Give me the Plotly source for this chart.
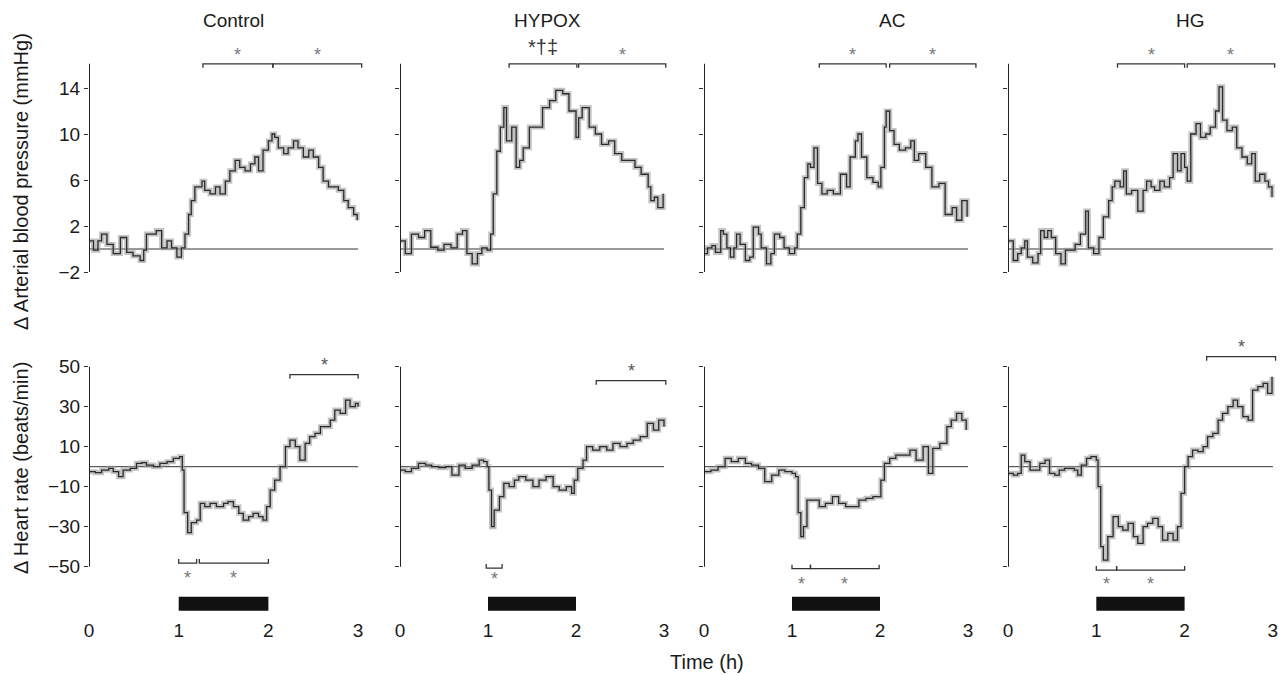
import plotly.graph_objects as go

# ---------------- data ----------------
panel_titles = ["Control", "HYPOX", "AC", "HG"]

control_abp_t = [0, 0.05, 0.10, 0.14, 0.20, 0.27, 0.35, 0.42, 0.49, 0.57, 0.61, 0.64, 0.70, 0.75, 0.81, 0.87, 0.92, 0.98, 1.03, 1.07,
                 1.11, 1.14, 1.18, 1.22, 1.26, 1.29, 1.35, 1.41, 1.46, 1.52, 1.57, 1.63, 1.68, 1.74, 1.80, 1.85, 1.89, 1.94, 2.00, 2.04,
                 2.07, 2.11, 2.17, 2.22, 2.28, 2.33, 2.39, 2.45, 2.50, 2.56, 2.61, 2.67, 2.72, 2.78, 2.84, 2.89, 2.95, 2.99]
control_abp = [0.7, -0.1, 0.7, 1.3, 0.4, -0.4, 1.0, -0.3, -0.6, -1.0, -0.1, 1.3, 1.3, 1.6, 0.1, 0.7, 0.1, -0.7, 0.1, 1.3,
               3.0, 4.2, 5.4, 5.4, 5.9, 5.1, 4.8, 5.4, 4.8, 5.9, 6.8, 7.7, 7.1, 6.8, 7.4, 8.0, 6.8, 8.6, 9.4, 10.0,
               9.7, 8.8, 8.3, 8.8, 9.4, 8.8, 8.0, 8.6, 8.0, 7.1, 5.9, 5.4, 5.4, 5.1, 4.2, 3.6, 3.0, 2.5]

control_hr_t = [0, 0.07, 0.14, 0.22, 0.27, 0.33, 0.38, 0.46, 0.53, 0.59, 0.64, 0.72, 0.79, 0.87, 0.94, 1.01, 1.04, 1.06, 1.10, 1.14,
                1.20, 1.24, 1.29, 1.35, 1.42, 1.50, 1.55, 1.61, 1.67, 1.72, 1.78, 1.83, 1.89, 1.94, 1.98, 2.02, 2.07, 2.13, 2.19, 2.24,
                2.30, 2.35, 2.41, 2.46, 2.52, 2.58, 2.63, 2.69, 2.74, 2.80, 2.86, 2.91, 2.97, 3.00]
control_hr = [-2.5, -3, -1.7, -0.8, -2.5, -5, -1.7, -0.8, 1.7, 2, 0.8, 0, 1.7, 2.5, 4.2, 5, -1.7, -23, -33, -28,
              -26.7, -18.3, -20, -18.3, -20, -18.3, -17.5, -20, -23.3, -26.7, -25, -23.3, -25, -26.7, -20, -11.7, -6.7, 0, 10, 13.3,
              10, 3.3, 11.7, 15, 16.7, 20, 20, 23.3, 28.3, 26.7, 33.3, 30, 31.7, 30]

hypox_abp_t = [0, 0.06, 0.13, 0.21, 0.28, 0.35, 0.43, 0.50, 0.58, 0.65, 0.71, 0.76, 0.82, 0.88, 0.93, 0.99, 1.03, 1.06, 1.10, 1.14,
               1.18, 1.21, 1.27, 1.32, 1.36, 1.40, 1.47, 1.55, 1.62, 1.70, 1.77, 1.85, 1.92, 2.00, 2.03, 2.07, 2.15, 2.22, 2.29, 2.37,
               2.44, 2.52, 2.59, 2.67, 2.74, 2.82, 2.85, 2.89, 2.93, 2.99]
hypox_abp = [0.7, -0.4, 1.3, 1.0, 1.6, 0.15, -0.1, 0.4, 0.1, 1.3, 1.6, -0.4, -1.3, -0.4, 0.1, -0.1, 1.3, 4.8, 8.5, 10.6,
             12.3, 9.4, 10.6, 7.1, 7.7, 8.8, 10.6, 10.6, 12.3, 12.9, 13.8, 13.5, 12.0, 9.7, 11.4, 12.3, 10.6, 10.0, 9.1, 9.4,
             8.3, 7.7, 7.7, 7.1, 6.5, 5.4, 4.2, 4.5, 3.6, 4.8]

hypox_hr_t = [0, 0.06, 0.13, 0.21, 0.29, 0.36, 0.44, 0.52, 0.59, 0.67, 0.74, 0.82, 0.90, 0.95, 0.99, 1.01, 1.04, 1.07, 1.13, 1.18,
              1.24, 1.30, 1.35, 1.43, 1.51, 1.58, 1.66, 1.74, 1.81, 1.89, 1.95, 1.98, 2.02, 2.08, 2.12, 2.19, 2.27, 2.35, 2.42, 2.50,
              2.58, 2.65, 2.73, 2.81, 2.88, 2.94, 3.00]
hypox_hr = [-1.7, -2.5, -0.8, 1.7, 0.8, 0, -0.5, 0, -4.2, 0.8, -0.8, 0.8, 3.3, 2.5, 0, -11.7, -30, -21.7, -15, -8.3,
            -10, -6.7, -5, -6.7, -10, -6.7, -5, -10, -11.7, -10, -13.3, -6.7, -0.8, 3.3, 10, 8.3, 10, 8.3, 11.7, 10,
            11.7, 13.3, 15, 21.7, 18.3, 23.3, 20]

ac_abp_t = [0, 0.04, 0.09, 0.13, 0.19, 0.22, 0.26, 0.30, 0.34, 0.37, 0.41, 0.47, 0.52, 0.56, 0.62, 0.65, 0.71, 0.76, 0.80, 0.86,
            0.91, 0.97, 1.03, 1.06, 1.10, 1.14, 1.18, 1.21, 1.25, 1.29, 1.34, 1.40, 1.47, 1.55, 1.62, 1.66, 1.72, 1.75, 1.79, 1.85,
            1.92, 1.98, 2.01, 2.05, 2.07, 2.11, 2.16, 2.22, 2.29, 2.35, 2.39, 2.44, 2.52, 2.59, 2.67, 2.74, 2.82, 2.87, 2.93, 2.99]
ac_abp = [-0.4, 0.1, 0.3, -0.3, 1.6, 1.3, 0.1, -0.7, 0.1, 1.3, 0.4, -1.0, -0.7, 1.9, 1.3, 0.1, -1.3, -0.4, 1.3, 1.0,
          0.1, -0.4, 0.1, 1.3, 3.6, 6.2, 7.4, 7.1, 8.8, 5.7, 4.8, 5.1, 4.8, 6.5, 5.4, 8.0, 9.4, 10.0, 8.0, 6.2,
          5.8, 5.4, 7.1, 10.6, 12.0, 10.3, 9.1, 8.6, 8.8, 9.4, 7.7, 8.3, 7.1, 5.4, 5.7, 3.0, 3.6, 2.5, 4.2, 2.8]

ac_hr_t = [0, 0.08, 0.16, 0.24, 0.31, 0.39, 0.47, 0.54, 0.62, 0.69, 0.77, 0.85, 0.92, 1.00, 1.04, 1.07, 1.10, 1.13, 1.17, 1.23,
           1.31, 1.38, 1.46, 1.53, 1.61, 1.69, 1.76, 1.84, 1.92, 1.98, 2.01, 2.05, 2.11, 2.18, 2.26, 2.34, 2.41, 2.49, 2.55, 2.60,
           2.68, 2.76, 2.81, 2.87, 2.93, 2.98]
ac_hr = [-2.5, -1.7, 0, 4.2, 2.5, 4.2, 1.7, 0.8, -0.8, -7.5, -4.2, -1.7, -2.5, -3.3, -5, -23, -35, -30, -16.7, -16.7,
         -20, -18.3, -15, -18.3, -20, -20, -16.7, -15.8, -15, -15, -6.7, 1.7, 4.2, 5.8, 5.8, 8.3, 3.3, 10, -3.3, 9.2,
         11.7, 20, 23.3, 26.7, 23.3, 18.3]

hg_abp_t = [0, 0.06, 0.11, 0.15, 0.19, 0.22, 0.28, 0.34, 0.37, 0.41, 0.45, 0.49, 0.54, 0.60, 0.65, 0.71, 0.76, 0.82, 0.88, 0.91,
            0.97, 1.03, 1.08, 1.14, 1.18, 1.21, 1.27, 1.31, 1.34, 1.40, 1.47, 1.53, 1.57, 1.62, 1.66, 1.72, 1.77, 1.83, 1.87, 1.92,
            1.96, 2.00, 2.03, 2.07, 2.13, 2.18, 2.24, 2.29, 2.35, 2.39, 2.43, 2.48, 2.54, 2.59, 2.65, 2.71, 2.76, 2.80, 2.85, 2.91,
            2.95, 2.99]
hg_abp = [0.7, -1.0, -0.4, 0.1, 0.7, -0.7, -1.2, -0.4, 1.6, 1.0, 1.6, 1.0, -0.4, -1.3, -0.1, -0.1, 0.4, 1.3, 3.3, 0.1,
          -0.4, 1.0, 2.8, 4.2, 5.4, 5.9, 5.4, 6.8, 4.8, 5.1, 3.3, 5.1, 5.9, 5.4, 5.1, 5.9, 5.4, 6.2, 8.3, 6.8,
          8.3, 7.1, 5.9, 10.0, 10.9, 9.7, 10.0, 10.6, 12.0, 14.1, 11.2, 10.3, 10.6, 8.8, 8.0, 7.4, 8.3, 5.9, 6.5, 5.9,
          5.4, 4.5]

hg_hr_t = [0, 0.06, 0.11, 0.15, 0.19, 0.25, 0.30, 0.36, 0.42, 0.47, 0.53, 0.58, 0.64, 0.70, 0.75, 0.79, 0.83, 0.89, 0.94, 1.00,
           1.02, 1.05, 1.08, 1.13, 1.19, 1.25, 1.30, 1.36, 1.42, 1.47, 1.53, 1.58, 1.64, 1.70, 1.75, 1.81, 1.87, 1.92, 1.96, 2.00,
           2.04, 2.09, 2.15, 2.21, 2.26, 2.32, 2.38, 2.43, 2.49, 2.55, 2.60, 2.66, 2.72, 2.77, 2.83, 2.89, 2.94, 2.99]
hg_hr = [-3.3, -4.2, -3.3, 5.8, 2.5, -1.7, -1.7, 1.7, 3.3, -3.3, -4.2, -1.7, -0.8, -0.8, -1.7, -4.2, 0.8, 4.2, 5, 3.3,
         -10, -40, -46.7, -35, -25, -30, -31.7, -28.3, -35, -38.3, -30, -28.3, -25.8, -30, -36.7, -33.3, -36.7, -30, -13.3, 0,
         5, 8.3, 7.5, 10, 15, 16.7, 23.3, 26.7, 30, 33.3, 30, 25, 23.3, 38.3, 40, 41.7, 36.7, 45]

# significance periods (h) and their labels
abp_sig_spans = [[[1.27, 2.05], [2.05, 3.04]],
                 [[1.24, 2.01], [2.03, 3.02]],
                 [[1.31, 2.07], [2.11, 3.09]],
                 [[1.24, 2.00], [2.03, 3.02]]]
abp_sig_labels = [["*", "*"], ["*\u2020\u2021", "*"], ["*", "*"], ["*", "*"]]
hr_low_spans = [[[1.00, 1.20], [1.23, 2.00]],
                [[0.98, 1.16]],
                [[1.00, 1.21], [1.21, 1.99]],
                [[1.00, 1.23], [1.23, 2.00]]]
hr_high_spans = [[[2.24, 3.00]], [[2.23, 3.02]], [], [[2.25, 3.03]]]
exposure = [1, 2]

abp_ticks = [-2, 2, 6, 10, 14]
hr_ticks = [-50, -30, -10, 10, 30, 50]
time_ticks = [0, 1, 2, 3]

# ---------------- layout helpers ----------------
W, H = 1282, 675
FONT = "Liberation Sans, Arial, Helvetica, sans-serif"
col_px0 = [89, 400, 704, 1008]
col_pph = [89.7, 88.0, 88.0, 88.3]
col_xmax = [3.08, 3.08, 3.12, 3.06]
title_px = [233, 547, 892, 1190]
abp_range = [-3, 18.5]
hr_range = [-75, 63]
top_dom = [1 - 283.5 / H, 1 - 36.25 / H]
bot_dom = [1 - 616.7 / H, 1 - 340.7 / H]
hr_low_y = [-48.2, -50.7, -51.0, -51.7]
hr_low_star_y = [-55.5, -56.0, -58.5, -58.5]
hr_high_y = [46, 43, 0, 55]

abp_series = [(control_abp_t, control_abp), (hypox_abp_t, hypox_abp), (ac_abp_t, ac_abp), (hg_abp_t, hg_abp)]
hr_series = [(control_hr_t, control_hr), (hypox_hr_t, hypox_hr), (ac_hr_t, ac_hr), (hg_hr_t, hg_hr)]

fig = go.Figure()
shapes = []
annotations = []
layout = {}


def ax_name(kind, idx):
    return kind if idx == 1 else f"{kind}{idx}"


def add_trace(t, v, idx):
    xa, ya = ax_name("x", idx), ax_name("y", idx)
    fig.add_trace(go.Scatter(x=t, y=v, mode="lines", xaxis=xa, yaxis=ya, line_shape="hv",
                             line=dict(color="rgba(155,155,155,0.6)", width=5),
                             hoverinfo="skip", showlegend=False))
    fig.add_trace(go.Scatter(x=t, y=v, mode="lines", xaxis=xa, yaxis=ya, line_shape="hv",
                             line=dict(color="#2a2a2a", width=1.3),
                             showlegend=False))


def bracket(idx, a, b, y, d, color="#333"):
    xa, ya = ax_name("x", idx), ax_name("y", idx)
    fig.add_trace(go.Scatter(x=[a, a, b, b], y=[y - d, y, y, y - d], mode="lines",
                             xaxis=xa, yaxis=ya, line=dict(color=color, width=1.3),
                             hoverinfo="skip", showlegend=False))


for c in range(4):
    x0 = col_px0[c] / W
    x1 = (col_px0[c] + col_xmax[c] * col_pph[c]) / W
    for r in range(2):
        idx = r * 4 + c + 1
        xa, ya = ax_name("x", idx), ax_name("y", idx)
        xkey = "xaxis" if idx == 1 else f"xaxis{idx}"
        ykey = "yaxis" if idx == 1 else f"yaxis{idx}"
        layout[xkey] = dict(domain=[x0, x1], range=[0, col_xmax[c]], anchor=ya, automargin=False,
                            showgrid=False, zeroline=False, showline=False,
                            tickvals=time_ticks, showticklabels=(r == 1), ticks="",
                            tickfont=dict(family=FONT, size=19, color="#1a1a1a"))
        layout[ykey] = dict(domain=top_dom if r == 0 else bot_dom, automargin=False,
                            range=abp_range if r == 0 else hr_range, anchor=xa,
                            showgrid=False, zeroline=False, showline=False,
                            tickvals=abp_ticks if r == 0 else hr_ticks,
                            ticks="outside", ticklen=4, tickwidth=1, tickcolor="#333",
                            showticklabels=(c == 0),
                            tickfont=dict(family=FONT, size=19, color="#1a1a1a"))
        ticks = abp_ticks if r == 0 else hr_ticks
        # axis line and zero line
        ytop = 16.1 if r == 0 else ticks[-1]
        shapes.append(dict(type="line", xref=xa, yref=ya, x0=0, x1=0, y0=ticks[0], y1=ytop,
                           line=dict(color="#222", width=2)))
        shapes.append(dict(type="line", xref=xa, yref=ya, x0=0, x1=3, y0=0, y1=0,
                           line=dict(color="#333", width=1), layer="below"))
        if r == 0:
            t, v = abp_series[c]
            add_trace(t, v, idx)
            for (a, b), lab in zip(abp_sig_spans[c], abp_sig_labels[c]):
                bracket(idx, a, b, 16.1, 0.35)
                big = lab != "*"
                annotations.append(dict(xref=xa, yref=ya, x=(a + b) / 2, y=17.6 if big else 16.9,
                                        text=lab, showarrow=False, xanchor="center", yanchor="middle",
                                        font=dict(family=FONT, size=20 if big else 18,
                                                  color="#333" if big else "#777")))
        else:
            t, v = hr_series[c]
            add_trace(t, v, idx)
            for a, b in hr_low_spans[c]:
                bracket(idx, a, b, hr_low_y[c], -2.0)
                annotations.append(dict(xref=xa, yref=ya, x=(a + b) / 2, y=hr_low_star_y[c],
                                        text="*", showarrow=False, xanchor="center", yanchor="middle",
                                        font=dict(family=FONT, size=18, color="#777")))
            for a, b in hr_high_spans[c]:
                bracket(idx, a, b, hr_high_y[c], 2.0)
                annotations.append(dict(xref=xa, yref=ya, x=(a + b) / 2, y=hr_high_y[c] + 5.0,
                                        text="*", showarrow=False, xanchor="center", yanchor="middle",
                                        font=dict(family=FONT, size=18, color="#555")))
            shapes.append(dict(type="rect", xref=xa, yref=ya, x0=exposure[0], x1=exposure[1],
                               y0=-72, y1=-65, fillcolor="#111", line=dict(width=0)))
    annotations.append(dict(xref="paper", yref="paper", x=title_px[c] / W, y=1 - 20 / H,
                            xanchor="center", yanchor="middle",
                            text=panel_titles[c], showarrow=False,
                            font=dict(family=FONT, size=19, color="#1a1a1a")))

annotations.append(dict(xref="paper", yref="paper", x=21 / W, y=1 - 182 / H, textangle=-90,
                        xanchor="center", yanchor="middle",
                        text="\u0394 Arterial blood pressure (mmHg)", showarrow=False,
                        font=dict(family=FONT, size=20, color="#1a1a1a")))
annotations.append(dict(xref="paper", yref="paper", x=21 / W, y=1 - 468 / H, textangle=-90,
                        xanchor="center", yanchor="middle",
                        text="\u0394 Heart rate (beats/min)", showarrow=False,
                        font=dict(family=FONT, size=20, color="#1a1a1a")))
annotations.append(dict(xref="paper", yref="paper", x=707 / W, y=1 - 662 / H,
                        xanchor="center", yanchor="middle",
                        text="Time (h)", showarrow=False,
                        font=dict(family=FONT, size=20, color="#1a1a1a")))

fig.update_layout(template="none", width=W, height=H, margin=dict(l=0, r=0, t=0, b=0),
                  paper_bgcolor="white", plot_bgcolor="white", showlegend=False,
                  shapes=shapes, annotations=annotations, **layout)

fig.write_html("out.html", config={"displayModeBar": False},
               post_script="document.body.style.margin='0px';document.body.style.overflow='hidden';")
